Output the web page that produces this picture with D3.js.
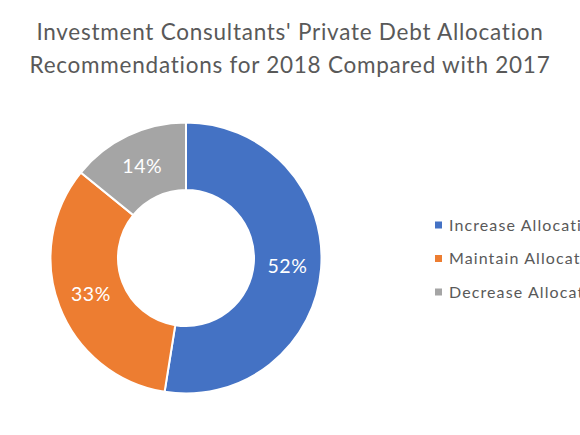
<!DOCTYPE html>
<html>
<head>
<meta charset="utf-8">
<script src="https://cdn.jsdelivr.net/npm/d3@7"></script>
<style>
  html, body { margin: 0; padding: 0; background: #fff; overflow: hidden; }
  svg { display: block; font-family: Lato, "Open Sans", sans-serif; }
</style>
</head>
<body>
<svg id="chart" width="580" height="435"></svg>
<script>
const titleLines = ["Investment Consultants' Private Debt Allocation", "Recommendations for 2018 Compared with 2017"];
const categories = ["Increase Allocation", "Maintain Allocation", "Decrease Allocation"];
const values = [52, 33, 14];
const colors = ["#4472C4", "#ED7D31", "#A5A5A5"];

const svg = d3.select("#chart");
const cx = 186, cy = 258, outerR = 135.5, innerR = 68;

svg.append("g").selectAll("text").data(titleLines).join("text")
  .attr("x", 290).attr("y", (d, i) => 40 + i * 32.5)
  .attr("text-anchor", "middle")
  .attr("font-size", 22.5)
  .attr("letter-spacing", 0.75)
  .attr("fill", "#595959")
  .text(d => d);

const pie = d3.pie().sort(null).value(d => d)(values);
const arc = d3.arc().innerRadius(innerR).outerRadius(outerR);
const g = svg.append("g").attr("transform", `translate(${cx},${cy})`);
g.selectAll("path").data(pie).join("path")
  .attr("d", arc)
  .attr("fill", (d, i) => colors[i])
  .attr("stroke", "#fff").attr("stroke-width", 2);
g.selectAll("text").data(pie).join("text")
  .attr("transform", d => `translate(${arc.centroid(d)})`)
  .attr("text-anchor", "middle").attr("dy", "0.36em")
  .attr("font-size", 19.5)
  .attr("letter-spacing", 0.6)
  .attr("fill", "#fff")
  .text(d => d.data + "%");

const y = d3.scalePoint().domain(categories).range([225, 292]);
const leg = svg.append("g").selectAll("g").data(categories).join("g")
  .attr("transform", d => `translate(435,${y(d)})`);
leg.append("rect").attr("x", 0).attr("y", -3.5).attr("width", 7).attr("height", 7)
  .attr("fill", (d, i) => colors[i]);
leg.append("text").attr("x", 14).attr("dy", "0.36em")
  .attr("font-size", 16).attr("letter-spacing", 1.1)
  .attr("fill", "#595959").text(d => d);
</script>
</body>
</html>
